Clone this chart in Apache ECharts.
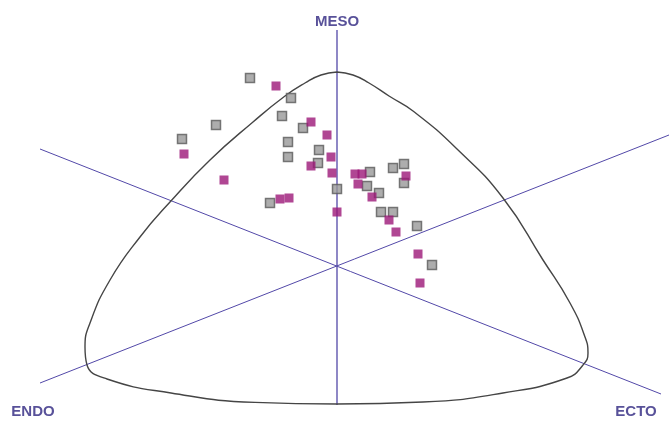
<!DOCTYPE html>
<html>
<head>
<meta charset="utf-8">
<script src="https://cdn.jsdelivr.net/npm/echarts@6/dist/echarts.min.js"></script>
<style>
  html, body { margin: 0; padding: 0; background: #fff; }
  #chart { width: 669px; height: 421px; }
</style>
</head>
<body>
<div id="chart"></div>
<script>
// somatochart coords: x = ecto - endo axis, y = meso axis
const grayPoints = [
  [-4.35, 9.4], [-2.3, 8.4], [-2.75, 7.5], [-6.05, 7.05], [-7.75, 6.35],
  [-1.7, 6.9], [-2.45, 6.2], [-2.45, 5.45], [-0.9, 5.8], [-0.95, 5.15],
  [0, 3.85], [-3.35, 3.15], [1.65, 4.7], [2.8, 4.9], [3.35, 5.1],
  [3.35, 4.15], [1.5, 4.0], [2.1, 3.65], [2.2, 2.7], [2.8, 2.7],
  [4.0, 2.0], [4.75, 0.05]
];
const magentaPoints = [
  [-3.05, 9.0], [-1.3, 7.2], [-0.5, 6.55], [-7.65, 5.6], [-0.3, 5.45],
  [-1.3, 5.0], [-0.25, 4.65], [-5.65, 4.3], [-2.85, 3.35], [-2.4, 3.4],
  [0, 2.7], [0.9, 4.6], [1.25, 4.6], [1.05, 4.1], [1.75, 3.45],
  [3.45, 4.5], [2.6, 2.3], [2.95, 1.7], [4.05, 0.6], [4.15, -0.85]
];

// outline of the chart (clockwise from the top)
const outline = [
  [0, 9.7], [0.8, 9.55], [1.6, 9.15], [2.6, 8.5], [3.8, 7.75], [6.0, 5.85],
  [8.3, 3.4], [10.3, 0.3], [11.65, -1.85], [12.4, -3.55], [12.55, -4.35],
  [12.3, -4.95], [11.5, -5.6], [8.3, -6.35], [4.3, -6.8], [0, -6.9],
  [-4.1, -6.82], [-8.3, -6.35], [-11.5, -5.65], [-12.5, -4.95], [-12.6, -4.05],
  [-12.35, -2.85], [-11.35, -0.7], [-9.85, 1.45], [-8.35, 3.2], [-6.35, 5.3],
  [-4.2, 7.2], [-2.6, 8.5], [-1.6, 9.15], [-0.8, 9.55], [0, 9.7]
];

// the three axes
const mesoAxis = [[0, 11.8], [0, -6.95]];
const endoAxis = [[-14.85, 5.85], [16.2, -6.4]];
const ectoAxis = [[-14.85, -5.85], [16.6, 6.55]];

const axisNames = ["MESO", "ENDO", "ECTO"];
const axisNamePos = [[0, 12.2], [-15.2, -7.3], [14.95, -7.3]];

const chart = echarts.init(document.getElementById("chart"));

const axisLine = (data, width) => ({
  type: "line",
  data: data,
  symbol: "none",
  silent: true,
  lineStyle: { color: "#5248a8", width: width },
  z: 1,
});

let options = {
  animation: false,
  grid: { left: 0, right: 0, top: 0, bottom: 0 },
  xAxis: { type: "value", min: -16.85, max: 16.6, show: false },
  yAxis: { type: "value", min: -7.75, max: 13.3, show: false },
  series: [
    axisLine(mesoAxis, 1.3),
    axisLine(endoAxis, 1),
    axisLine(ectoAxis, 1),
    {
      type: "line",
      data: outline,
      symbol: "none",
      smooth: 0.5,
      silent: true,
      lineStyle: { color: "#454545", width: 1.4 },
      z: 2,
    },
    {
      name: "gray",
      type: "scatter",
      data: grayPoints,
      symbol: "rect",
      symbolSize: 9,
      itemStyle: { color: "#999999", borderColor: "#5a5a5a", borderWidth: 1.5 },
      z: 3,
    },
    {
      name: "magenta",
      type: "scatter",
      data: magentaPoints,
      symbol: "rect",
      symbolSize: 9,
      itemStyle: { color: "#9c1878" },
      z: 4,
    },
    {
      type: "scatter",
      data: axisNamePos.map((p, i) => ({ value: p, name: axisNames[i] })),
      symbolSize: 0,
      silent: true,
      label: {
        show: true,
        position: "inside",
        formatter: "{b}",
        color: "#2e2580",
        fontFamily: "Liberation Sans",
        fontWeight: "bold",
        fontSize: 15,
      },
      z: 5,
    },
  ],
};

chart.setOption(options);
</script>
</body>
</html>
